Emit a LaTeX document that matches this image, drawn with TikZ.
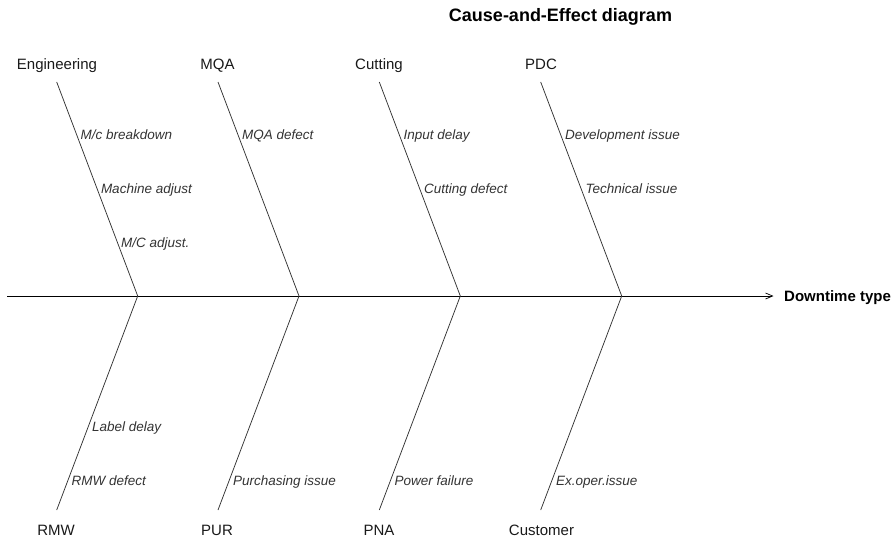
\documentclass[tikz,border=0pt]{standalone}
\usepackage{fontspec}
\setmainfont{Liberation Sans}
\usetikzlibrary{arrows.meta}
\begin{document}
\begin{tikzpicture}[x=1pt,y=-1pt,
  bone/.style={draw=black!80,line width=0.75pt},
  cause/.style={anchor=base,inner sep=0,text=black!90,font=\fontsize{15}{18}\selectfont},
  sub/.style={anchor=base west,inner sep=0,text=black!80,font=\fontsize{13.5}{16}\selectfont\itshape}]
\useasboundingbox (0,0) rectangle (896,539);
\node[anchor=base,inner sep=0,font=\fontsize{18}{21}\selectfont\bfseries] (title) at (560.5,21.5) {Cause-and-Effect diagram};
\coordinate (tail) at (7,296);
\coordinate (head) at (773.5,296);
\node[anchor=base west,inner sep=0,font=\fontsize{15}{18}\selectfont\bfseries] (effect) at (784,301.5) {Downtime type};
\draw[line width=0.75pt,-{Straight Barb[length=7pt,width=6pt]}] (tail) -- (head);
\coordinate (j1) at (137.7,296);
\coordinate (j2) at (299,296);
\coordinate (j3) at (460.3,296);
\coordinate (j4) at (621.7,296);
\coordinate (t1) at (56.7,82);
\coordinate (t2) at (218,82);
\coordinate (t3) at (379.3,82);
\coordinate (t4) at (540.7,82);
\coordinate (b1) at (56.7,510);
\coordinate (b2) at (218,510);
\coordinate (b3) at (379.3,510);
\coordinate (b4) at (540.7,510);
\draw[bone] (t1) -- (j1) -- (b1);
\draw[bone] (t2) -- (j2) -- (b2);
\draw[bone] (t3) -- (j3) -- (b3);
\draw[bone] (t4) -- (j4) -- (b4);
\node[cause] (eng) at (57,69) {Engineering};
\node[cause] (mqa) at (217.5,69) {MQA};
\node[cause] (cut) at (379,69) {Cutting};
\node[cause] (pdc) at (541,69) {PDC};
\node[cause] (rmw) at (56,535) {RMW};
\node[cause] (pur) at (217,535) {PUR};
\node[cause] (pna) at (379,535) {PNA};
\node[cause] (cust) at (541.5,535) {Customer};
\node[sub] (mcbreak) at (80.5,139.3) {M/c breakdown};
\node[sub] (madjust) at (100.8,193.3) {Machine adjust};
\node[sub] (mcadjust) at (121,247.3) {M/C adjust.};
\node[sub] (mqadef) at (242,139.3) {MQA defect};
\node[sub] (input) at (403.5,139.3) {Input delay};
\node[sub] (cutdef) at (423.8,193.3) {Cutting defect};
\node[sub] (devel) at (565,139.3) {Development issue};
\node[sub] (tech) at (585.3,193.3) {Technical issue};
\node[sub] (label) at (92,431.7) {Label delay};
\node[sub] (rmwdef) at (71.5,485.7) {RMW defect};
\node[sub] (purch) at (233,485.7) {Purchasing issue};
\node[sub] (power) at (394.5,485.7) {Power failure};
\node[sub] (exoper) at (555.8,485.7) {Ex.oper.issue};
\end{tikzpicture}
\end{document}
